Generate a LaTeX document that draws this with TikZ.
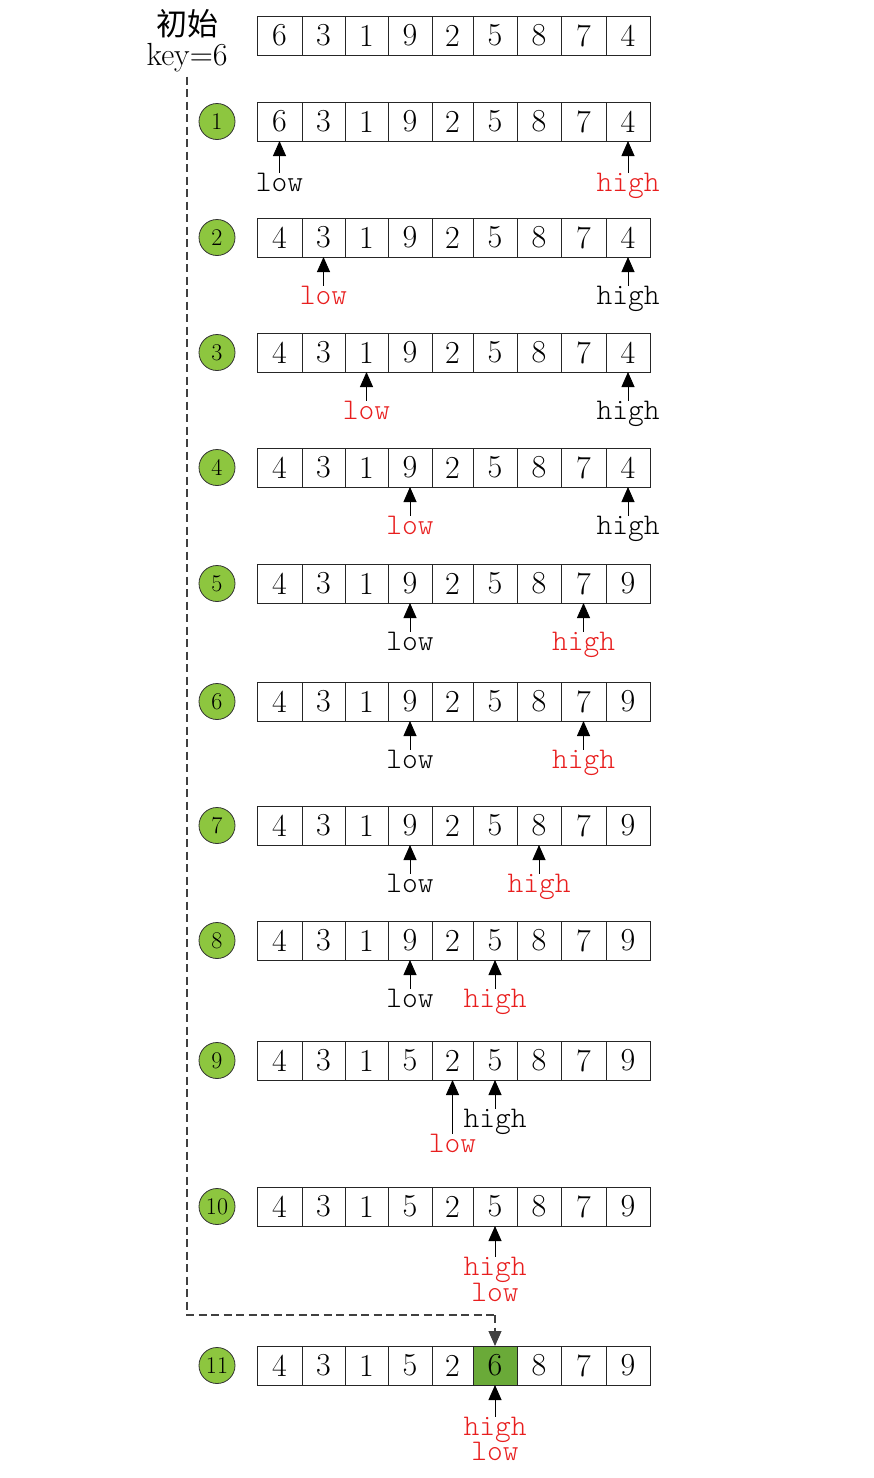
\documentclass[tikz,border=0pt]{standalone}
\usepackage{fontspec}
\newfontfamily\cjk{Noto Sans CJK SC}
\newfontfamily\lbfont{Latin Modern Mono Light}
\usetikzlibrary{arrows.meta}
\definecolor{circgreen}{RGB}{141,198,63}
\definecolor{cellgreen}{RGB}{106,170,56}
\definecolor{ptrred}{RGB}{232,30,30}
\def\xs{{257,302,345,388,432,473,517,561,606,650}}
\begin{document}
\begin{tikzpicture}[x=1pt,y=-1pt,
 cell/.style={draw=black!85, line width=0.9pt, minimum height=39pt, inner sep=0pt, outer sep=0pt, font=\fontsize{32}{32}\selectfont},
 num/.style={circle, draw=black!80, line width=0.8pt, fill=circgreen, minimum size=36pt, inner sep=0pt, font=\fontsize{24}{24}\selectfont},
 lbl/.style={inner sep=0pt, outer sep=0pt, anchor=base, font=\lbfont\fontsize{30}{30}\selectfont},
 redlbl/.style={lbl, text=ptrred},
 ptr/.style={-{Triangle[width=13pt,length=15pt]}, line width=0.9pt},
 lead/.style={dash pattern=on 8pt off 4.5pt, draw=black!75, line width=1.1pt}
]
\useasboundingbox (0,0) rectangle (873,1478);
% arrays
\foreach \r/\y/\vals in {0/16/{6,3,1,9,2,5,8,7,4}, 1/102/{6,3,1,9,2,5,8,7,4}, 2/218/{4,3,1,9,2,5,8,7,4}, 3/333/{4,3,1,9,2,5,8,7,4}, 4/448/{4,3,1,9,2,5,8,7,4}, 5/564/{4,3,1,9,2,5,8,7,9}, 6/682/{4,3,1,9,2,5,8,7,9}, 7/806/{4,3,1,9,2,5,8,7,9}, 8/921/{4,3,1,9,2,5,8,7,9}, 9/1041/{4,3,1,5,2,5,8,7,9}, 10/1187/{4,3,1,5,2,5,8,7,9}, 11/1346/{4,3,1,5,2,6,8,7,9}}{
  \foreach \v [count=\i from 0] in \vals {
    \pgfmathsetmacro\xl{\xs[\i]}
    \pgfmathsetmacro\xr{\xs[\i+1]}
    \pgfmathsetmacro\w{\xr-\xl}
    \pgfmathsetmacro\xc{(\xr+\xl)/2}
    \def\cf{white}
    \ifnum\r=11 \ifnum\i=5 \def\cf{cellgreen}\fi\fi
    \node[cell, fill=\cf, minimum width=\w pt] (r\r-\i) at (\xc, \y+19.5) {\v};
  }
}
% step circles
\foreach \r/\y in {1/102, 2/218, 3/333, 4/448, 5/564, 6/682, 7/806, 8/921, 9/1041, 10/1187, 11/1346}
  \node[num] (n\r) at (217, \y+19.5) {\r};
% initial label
\node[inner sep=0pt, font=\cjk\fontsize{31}{31}\selectfont] (init) at (187,24) {初始};
\node[inner sep=0pt, anchor=base, font=\fontsize{32}{32}\selectfont] (key) at (187,65) {key=6};
% pointers
\node[lbl] (lo1) at ([yshift=-50pt]r1-0.south) {low};
\node[redlbl] (hi1) at ([yshift=-50pt]r1-8.south) {high};
\draw[ptr] (lo1.north) -- (r1-0.south);
\draw[ptr] (hi1.north) -- (r1-8.south);

\node[redlbl] (lo2) at ([yshift=-47pt]r2-1.south) {low};
\node[lbl] (hi2) at ([yshift=-47pt]r2-8.south) {high};
\draw[ptr] (lo2.north) -- (r2-1.south);
\draw[ptr] (hi2.north) -- (r2-8.south);

\node[redlbl] (lo3) at ([yshift=-47pt]r3-2.south) {low};
\node[lbl] (hi3) at ([yshift=-47pt]r3-8.south) {high};
\draw[ptr] (lo3.north) -- (r3-2.south);
\draw[ptr] (hi3.north) -- (r3-8.south);

\node[redlbl] (lo4) at ([yshift=-47pt]r4-3.south) {low};
\node[lbl] (hi4) at ([yshift=-47pt]r4-8.south) {high};
\draw[ptr] (lo4.north) -- (r4-3.south);
\draw[ptr] (hi4.north) -- (r4-8.south);

\node[lbl] (lo5) at ([yshift=-47pt]r5-3.south) {low};
\node[redlbl] (hi5) at ([yshift=-47pt]r5-7.south) {high};
\draw[ptr] (lo5.north) -- (r5-3.south);
\draw[ptr] (hi5.north) -- (r5-7.south);

\node[lbl] (lo6) at ([yshift=-47pt]r6-3.south) {low};
\node[redlbl] (hi6) at ([yshift=-47pt]r6-7.south) {high};
\draw[ptr] (lo6.north) -- (r6-3.south);
\draw[ptr] (hi6.north) -- (r6-7.south);

\node[lbl] (lo7) at ([yshift=-47pt]r7-3.south) {low};
\node[redlbl] (hi7) at ([yshift=-47pt]r7-6.south) {high};
\draw[ptr] (lo7.north) -- (r7-3.south);
\draw[ptr] (hi7.north) -- (r7-6.south);

\node[lbl] (lo8) at ([yshift=-47pt]r8-3.south) {low};
\node[redlbl] (hi8) at ([yshift=-47pt]r8-5.south) {high};
\draw[ptr] (lo8.north) -- (r8-3.south);
\draw[ptr] (hi8.north) -- (r8-5.south);

\node[redlbl] (lo9) at ([yshift=-72pt]r9-4.south) {low};
\node[lbl] (hi9) at ([yshift=-47pt]r9-5.south) {high};
\draw[ptr] (lo9.north) -- (r9-4.south);
\draw[ptr] (hi9.north) -- (r9-5.south);

\node[redlbl] (hi10) at ([yshift=-49pt]r10-5.south) {high};
\node[redlbl] (lo10) at ([yshift=-75pt]r10-5.south) {low};
\draw[ptr] (hi10.north) -- (r10-5.south);

\node[redlbl] (hi11) at ([yshift=-50pt]r11-5.south) {high};
\node[redlbl] (lo11) at ([yshift=-75pt]r11-5.south) {low};
\draw[ptr] (hi11.north) -- (r11-5.south);
% key lead
\coordinate (bend) at (r11-5.north |- 0,1315);
\draw[lead] ([yshift=-5pt]key.south) |- (bend);
\draw[lead, -{Triangle[width=13pt,length=15pt]}] (bend) -- (r11-5.north);
\end{tikzpicture}
\end{document}
